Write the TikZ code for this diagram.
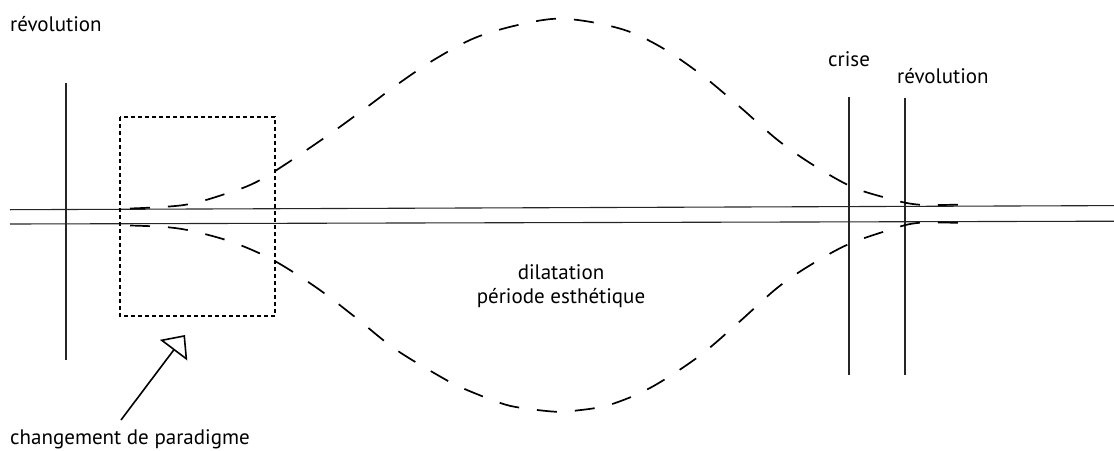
\documentclass[tikz,border=0pt]{standalone}
\usepackage{fontspec}
\setmainfont{PT Sans}
\usetikzlibrary{arrows.meta}
\begin{document}
\begin{tikzpicture}[x=1pt,y=-1pt,
  lbl/.style={inner sep=0pt,font=\fontsize{21}{25}\selectfont},
  axisline/.style={line width=1.1pt,black!85},
  vline/.style={line width=1.1pt,black!85},
  curve/.style={line width=1.7pt,dash pattern=on 20pt off 18pt},
  frame/.style={line width=1.2pt,dash pattern=on 4pt off 3pt},
  pointer/.style={line width=1.6pt,-{Triangle[open,length=19pt,width=34pt,line width=1.6pt]}}]
\useasboundingbox (0,0) rectangle (1114,450);
% horizontal axes
\coordinate (tl) at (10,209.7); \coordinate (tr) at (1114,205.6);
\coordinate (bl) at (10,224); \coordinate (br) at (1114,221.2);
\draw[axisline] (tl) -- (tr);
\draw[axisline] (bl) -- (br);
% vertical lines
\coordinate (v1t) at (66,83); \coordinate (v1b) at (66,360);
\coordinate (v2t) at (849,97); \coordinate (v2b) at (849,375);
\coordinate (v3t) at (905,98); \coordinate (v3b) at (905,375);
\draw[vline] (v1t) -- (v1b);
\draw[vline] (v2t) -- (v2b);
\draw[vline] (v3t) -- (v3b);
% dotted box
\coordinate (boxa) at (120,117); \coordinate (boxb) at (275,316);
\draw[frame] (boxa) rectangle (boxb);
% upper curve
\draw[curve] plot[smooth,tension=0.55] coordinates {(130,208.5) (184,205) (225,194) (262,179) (322,139.5) (365,108.5) (398,84) (432,61) (470,40) (502,29) (540,20.5) (565,18.8) (598,23.3) (631,32.3) (665,49.5) (703,76) (740,107) (777,139.5) (810,163) (850,186) (883,197) (917,204.5) (963,204.5)};
% lower curve
\draw[curve] plot[smooth,tension=0.55] coordinates {(130,225.5) (165,227) (192,231) (232,242) (273,260) (317,288) (355,317) (395,349) (441,377) (463,388.3) (499.5,402.7) (520,407.7) (555,411.7) (575,410.7) (609,405) (650,388) (698,357) (738,323) (776.7,288.3) (807.7,266.7) (846.7,245) (886,231) (917,223) (963,223)};
% arrow
\coordinate (afoot) at (121,420); \coordinate (atip) at (185,335);
\draw[pointer] (afoot) -- (atip);
% labels
\node[lbl,anchor=base west] (rev1) at (10,31) {révolution};
\node[lbl,anchor=base west] (crise) at (828,66) {crise};
\node[lbl,anchor=base west] (rev2) at (897,83) {révolution};
\node[lbl,anchor=base] (dil) at (561,279) {dilatation};
\node[lbl,anchor=base] (per) at (561,303) {période esthétique};
\node[lbl,anchor=base west] (chg) at (10,444) {changement de paradigme};
\end{tikzpicture}
\end{document}
